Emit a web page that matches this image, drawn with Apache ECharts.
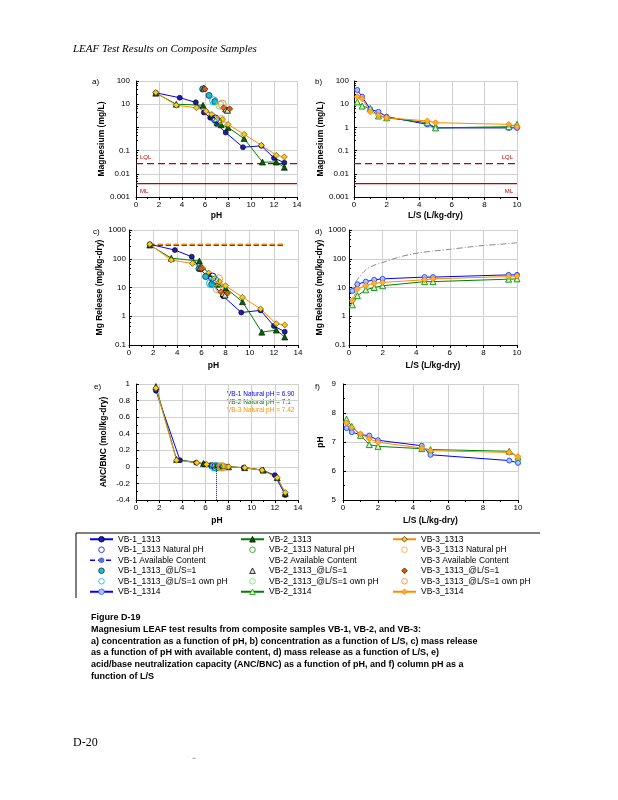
<!DOCTYPE html>
<html><head><meta charset="utf-8">
<script src="https://cdn.jsdelivr.net/npm/echarts@6/dist/echarts.min.js"></script>
<style>html,body{margin:0;padding:0;background:#fff;}#c{width:618px;height:800px;}</style>
</head><body><div id="c"></div>
<script>
// ---------- DATA ----------
// 1313 (pH-dependence) : pH, concentration (mg/L), release (mg/kg-dry), ANC (mol/kg-dry)
const pH1313_VB1 = [1.72, 3.8, 5.2, 5.9, 6.45, 7.0, 7.8, 9.3, 10.9, 12.0, 12.9];
const conc1313_VB1 = [31, 19, 12, 4.4, 2.6, 1.4, 0.6, 0.14, 0.16, 0.048, 0.03];
const rel1313_VB1 = [320, 200, 118, 43, 25, 12.5, 5, 1.35, 1.6, 0.46, 0.29];
const anc1313_VB1 = [0.92, 0.08, 0.05, 0.03, 0.02, 0.01, 0.0, -0.01, -0.04, -0.1, -0.34];

const pH1313_VB2 = [1.72, 3.5, 5.83, 6.6, 7.4, 8.0, 9.4, 11.0, 12.2, 12.9];
const conc1313_VB2 = [30, 10, 9, 3.4, 1.3, 1.0, 0.33, 0.032, 0.032, 0.019];
const rel1313_VB2 = [300, 105, 83, 30, 13, 9.6, 3.2, 0.28, 0.33, 0.19];
const anc1313_VB2 = [0.97, 0.09, 0.04, 0.02, 0.01, 0.0, -0.01, -0.04, -0.13, -0.32];

const pH1313_VB3 = [1.72, 3.5, 5.26, 6.1, 6.6, 7.5, 8.0, 9.4, 10.9, 12.2, 12.9];
const conc1313_VB3 = [32, 9, 7, 5, 3.6, 2.2, 1.35, 0.5, 0.17, 0.063, 0.053];
const rel1313_VB3 = [320, 90, 69, 47, 32, 16, 11.5, 4.6, 1.8, 0.55, 0.5];
const anc1313_VB3 = [0.95, 0.08, 0.05, 0.03, 0.02, 0.01, 0.0, -0.01, -0.04, -0.13, -0.31];

// natural pH, own pH and @L/S=1 points
const naturalPH = [6.9, 7.1, 7.42];
const naturalConc = [2.3, 1.8, 2.2];
const naturalRel = [23, 18, 20];
const ownPH = [6.75, 7.3, 7.5];
const ownConc = [14, 9, 10];
const ls1PH_VB1 = [5.8, 6.35, 6.85];
const ls1Conc_VB1 = [45, 24, 13];
const ls1PH_VB2 = [5.9, 7.8, 7.95];
const ls1Conc_VB2 = [50, 6.2, 5.5];
const ls1PH_VB3 = [6.0, 7.6, 8.15];
const ls1Conc_VB3 = [45, 7, 6.3];

// available content (mg/kg-dry) over the pH range
const availContent = [295, 300, 320];
const availPHRange = [1.72, 12.9];

// limits (mg/L) and the x ranges they span
const limitLQL = 0.0275;
const limitML = 0.0038;
const limitRangePH = [0, 14];
const limitRangeLS = [0, 10];

// 1314 (column) : L/S, concentration, cumulative release, pH
const ls1314 = [0.2, 0.5, 1.0, 1.5, 2.0, 4.5, 5.0, 9.5, 10.0];
const conc1314_VB1 = [41, 21, 6, 4.7, 2.9, 1.35, 0.95, 0.95, 0.95];
const conc1314_VB2 = [12.6, 8.3, 6.6, 3.1, 2.6, 1.6, 0.95, 1.07, 1.35];
const conc1314_VB3 = [21, 17, 4.7, 3.4, 2.6, 1.9, 1.6, 1.35, 1.07];
const cum1314_VB1 = [7.6, 13, 16, 18.5, 20, 23, 23, 27.5, 27.5];
const cum1314_VB2 = [2.5, 5.2, 8.3, 10, 11.5, 16, 16, 19.5, 20];
const cum1314_VB3 = [3.5, 8.9, 11.7, 14, 15, 18.6, 20, 24, 25];
const pH1314_VB1 = [7.48, 7.34, 7.25, 7.22, 7.06, 6.87, 6.56, 6.36, 6.28];
const pH1314_VB2 = [7.79, 7.54, 7.23, 6.91, 6.85, 6.77, 6.74, 6.68, 6.48];
const pH1314_VB3 = [7.66, 7.5, 7.28, 7.11, 6.99, 6.79, 6.7, 6.64, 6.5];

// grey dash-dot curve in panel d)
const greyLS = [0.1, 0.5, 1, 1.5, 2, 3, 4, 5, 6, 7, 8, 9, 10];
const greyVal = [7, 19, 41, 60, 74, 115, 155, 185, 213, 250, 290, 320, 360];

// legend names
const legendCol1 = ['VB-1_1313', 'VB-1_1313 Natural pH', 'VB-1 Available Content', 'VB-1_1313_@L/S=1', 'VB-1_1313_@L/S=1 own pH', 'VB-1_1314'];
const legendCol2 = ['VB-2_1313', 'VB-2_1313 Natural pH', 'VB-2 Available Content', 'VB-2_1313_@L/S=1', 'VB-2_1313_@L/S=1 own pH', 'VB-2_1314'];
const legendCol3 = ['VB-3_1313', 'VB-3_1313 Natural pH', 'VB-3 Available Content', 'VB-3_1313_@L/S=1', 'VB-3_1313_@L/S=1 own pH', 'VB-3_1314'];

const captionLines = [
  'Figure D-19',
  'Magnesium LEAF test results from composite samples VB-1, VB-2, and VB-3:',
  'a) concentration as a function of pH, b) concentration as a function of L/S, c) mass release',
  'as a function of pH with available content, d) mass release as a function of L/S, e)',
  'acid/base neutralization capacity (ANC/BNC) as a function of pH, and f) column pH as a',
  'function of L/S'
];
const naturalNotes = ['VB-1 Natural pH = 6.90', 'VB-2 Natural pH = 7.1', 'VB-3 Natural pH = 7.42'];

// ---------- STYLE ----------
const F = 'Liberation Sans, Arial, sans-serif';
const LC = ['#0000ff', '#008000', '#ff8c00'];
const m1313 = [
  {symbol: 'circle', size: 5, style: {color: '#1c1cb0', borderColor: '#000', borderWidth: 0.6}},
  {symbol: 'triangle', size: 6, style: {color: '#006400', borderColor: '#000', borderWidth: 0.6}},
  {symbol: 'diamond', size: 6, style: {color: '#ffcc00', borderColor: '#333', borderWidth: 0.6}}
];
const m1314 = [
  {symbol: 'circle', size: 5, style: {color: '#a8c8ff', borderColor: '#3050ff', borderWidth: 1}},
  {symbol: 'triangle', size: 6, style: {color: '#d8f5d0', borderColor: '#1a9a1a', borderWidth: 1}},
  {symbol: 'diamond', size: 6, style: {color: '#ffb030', borderColor: '#ff7a00', borderWidth: 0.8}}
];
const mNat = ['#0000ff', '#00a000', '#ff9a40'];
const mOwn = ['#00b0f0', '#66dd66', '#ff8020'];
const mLs1 = [
  {symbol: 'circle', size: 6, style: {color: '#22bbcc', borderColor: '#003050', borderWidth: 0.8}},
  {symbol: 'triangle', size: 6, style: {color: '#c8e8c0', borderColor: '#000', borderWidth: 0.8}},
  {symbol: 'diamond', size: 6, style: {color: '#e05a00', borderColor: '#401000', borderWidth: 0.6}}
];

function zip(xs, ys) { return xs.map((x, i) => [x, ys[i]]); }
function fmt(v) { return String(Number(Number(v).toPrecision(3))); }

const grids = [
  {left: 136, top: 81, width: 161, height: 116},
  {left: 354, top: 81, width: 163, height: 116},
  {left: 129, top: 230, width: 169, height: 115},
  {left: 349, top: 230, width: 168, height: 115},
  {left: 136, top: 384, width: 162, height: 116},
  {left: 343, top: 384, width: 175, height: 116}
];

const nameStyle = {fontFamily: F, fontSize: 8.5, fontWeight: 'bold', color: '#000'};
const labStyle = {fontFamily: F, fontSize: 8, color: '#000'};
const split = {show: true, lineStyle: {color: '#d0d0d0', width: 1}};

function xAx(i, max, name, gap) {
  return {gridIndex: i, type: 'value', min: 0, max: max, interval: 2, name: name,
    nameLocation: 'middle', nameGap: gap, nameTextStyle: nameStyle,
    axisLine: {show: true, onZero: false, lineStyle: {color: '#000', width: 1}},
    axisTick: {show: true, length: 3, lineStyle: {color: '#000'}},
    minorTick: {show: true, splitNumber: 2, length: 2, lineStyle: {color: '#000'}},
    axisLabel: Object.assign({margin: 4}, labStyle),
    splitLine: split};
}
function yLog(i, min, max, name, gap, margin, hideOne) {
  return {gridIndex: i, type: 'log', logBase: 10, min: min, max: max, name: name,
    nameLocation: 'middle', nameGap: gap, nameTextStyle: nameStyle,
    axisLine: {show: true, lineStyle: {color: '#000', width: 1}},
    axisTick: {show: true, inside: true, length: 3, lineStyle: {color: '#000'}},
    minorTick: {show: true, splitNumber: 5, length: 2, lineStyle: {color: '#000'}},
    axisLabel: Object.assign({margin: margin, formatter: v => (hideOne && Math.abs(v - 1) < 1e-9) ? '' : fmt(v)}, labStyle),
    splitLine: split};
}
function yLin(i, min, max, interval, name, gap, margin) {
  return {gridIndex: i, type: 'value', min: min, max: max, interval: interval, name: name,
    nameLocation: 'middle', nameGap: gap, nameTextStyle: nameStyle,
    axisLine: {show: true, onZero: false, lineStyle: {color: '#000', width: 1}},
    axisTick: {show: true, inside: true, length: 3, lineStyle: {color: '#000'}},
    minorTick: {show: true, splitNumber: 2, length: 2, lineStyle: {color: '#000'}},
    axisLabel: Object.assign({margin: margin, formatter: v => fmt(v)}, labStyle),
    splitLine: split};
}

const xAxis = [
  xAx(0, 14, 'pH', 14), xAx(1, 10, 'L/S (L/kg-dry)', 14), xAx(2, 14, 'pH', 16),
  xAx(3, 10, 'L/S (L/kg-dry)', 16), xAx(4, 14, 'pH', 16), xAx(5, 10, 'L/S (L/kg-dry)', 16)
];
const yAxis = [
  yLog(0, 0.001, 100, 'Magnesium (mg/L)', 29, 6, true),
  yLog(1, 0.001, 100, 'Magnesium (mg/L)', 27, 5, false),
  yLog(2, 0.1, 1000, 'Mg Release (mg/kg-dry)', 23, 3, false),
  yLog(3, 0.1, 1000, 'Mg Release (mg/kg-dry)', 24, 3, false),
  yLin(4, -0.4, 1, 0.2, 'ANC/BNC (mol/kg-dry)', 28, 6),
  yLin(5, 5, 9, 1, 'pH', 18, 7)
];

const series = [];
function addLine(name, gi, xs, ys, mk, color, extra) {
  series.push(Object.assign({
    name: name, type: 'line', xAxisIndex: gi, yAxisIndex: gi, data: zip(xs, ys),
    symbol: mk.symbol, symbolSize: mk.size, itemStyle: mk.style,
    lineStyle: {color: color, width: 1}, animation: false, z: 3
  }, extra || {}));
}
// markers only (line series with invisible line so the legend icon keeps symbol proportions)
function addPoints(name, gi, xs, ys, symbol, size, style, extra) {
  series.push(Object.assign({
    name: name, type: 'line', xAxisIndex: gi, yAxisIndex: gi, data: zip(xs, ys),
    symbol: symbol, symbolSize: size, itemStyle: style, showAllSymbol: true,
    lineStyle: {width: 0, opacity: 0}, animation: false, z: 4
  }, extra || {}));
}
function openStyle(c) { return {color: 'rgba(255,255,255,0)', borderColor: c, borderWidth: 1}; }

function addLimit(gi, range, value, text, dashed, atStart, above) {
  const data = zip(range, [value, value]).map((p, i) => {
    const item = {value: p};
    if ((atStart && i === 0) || (!atStart && i === 1)) {
      item.label = {show: true, formatter: text, position: above ? 'top' : 'bottom',
        align: atStart ? 'left' : 'right', offset: [atStart ? 4 : -4, above ? 2 : -1],
        color: '#c00000', fontSize: 6, fontFamily: F};
    }
    return item;
  });
  series.push({name: text + ' limit', type: 'line', xAxisIndex: gi, yAxisIndex: gi, data: data,
    symbol: 'circle', symbolSize: 1, itemStyle: {color: 'rgba(0,0,0,0)'},
    lineStyle: {color: '#c00000', width: 1.2, type: dashed ? [7, 4] : 'solid'},
    animation: false, z: 1, silent: true});
}

const pH1313 = [pH1313_VB1, pH1313_VB2, pH1313_VB3];
const conc1313 = [conc1313_VB1, conc1313_VB2, conc1313_VB3];
const rel1313 = [rel1313_VB1, rel1313_VB2, rel1313_VB3];
const anc1313 = [anc1313_VB1, anc1313_VB2, anc1313_VB3];
const ls1PH = [ls1PH_VB1, ls1PH_VB2, ls1PH_VB3];
const ls1Conc = [ls1Conc_VB1, ls1Conc_VB2, ls1Conc_VB3];
const conc1314 = [conc1314_VB1, conc1314_VB2, conc1314_VB3];
const cum1314 = [cum1314_VB1, cum1314_VB2, cum1314_VB3];
const pH1314 = [pH1314_VB1, pH1314_VB2, pH1314_VB3];
const cols = [legendCol1, legendCol2, legendCol3];

// panel a
for (let k = 0; k < 3; k++) addLine(cols[k][0], 0, pH1313[k], conc1313[k], m1313[k], LC[k]);
for (let k = 0; k < 3; k++) {
  const n = cols[k];
  addPoints(n[1], 0, [naturalPH[k]], [naturalConc[k]], 'circle', 8, openStyle(mNat[k]));
  addPoints(n[3], 0, ls1PH[k], ls1Conc[k], mLs1[k].symbol, mLs1[k].size, mLs1[k].style);
  addPoints(n[4], 0, [ownPH[k]], [ownConc[k]], 'circle', 8, openStyle(mOwn[k]));
}
addLimit(0, limitRangePH, limitLQL, 'LQL', true, true, true);
addLimit(0, limitRangePH, limitML, 'ML', false, true, false);
// panel b
for (let k = 0; k < 3; k++) addLine(cols[k][5], 1, ls1314, conc1314[k], m1314[k], LC[k]);
addLimit(1, limitRangeLS, limitLQL, 'LQL', true, false, true);
addLimit(1, limitRangeLS, limitML, 'ML', false, false, false);
// panel c
for (let k = 0; k < 3; k++) {
  series.push({name: cols[k][2], type: 'line', xAxisIndex: 2, yAxisIndex: 2,
    data: zip(availPHRange, [availContent[k], availContent[k]]), symbol: 'none',
    lineStyle: {color: LC[k], width: 1.5, type: [5, 3]}, animation: false, z: 2});
}
for (let k = 0; k < 3; k++) addLine(cols[k][0], 2, pH1313[k], rel1313[k], m1313[k], LC[k]);
for (let k = 0; k < 3; k++) {
  const n = cols[k];
  addPoints(n[1], 2, [naturalPH[k]], [naturalRel[k]], 'circle', 8, openStyle(mNat[k]));
  addPoints(n[3], 2, ls1PH[k], ls1Conc[k], mLs1[k].symbol, mLs1[k].size, mLs1[k].style);
  addPoints(n[4], 2, [ownPH[k]], [ownConc[k]], 'circle', 8, openStyle(mOwn[k]));
}
// panel d
series.push({name: 'Cumulative reference', type: 'line', xAxisIndex: 3, yAxisIndex: 3,
  data: zip(greyLS, greyVal), symbol: 'none', smooth: 0.3,
  lineStyle: {color: '#888', width: 1, type: [6, 2, 1, 2]}, animation: false, z: 2});
for (let k = 0; k < 3; k++) addLine(cols[k][5], 3, ls1314, cum1314[k], m1314[k], LC[k]);
// panel e
for (let k = 0; k < 3; k++) addLine(cols[k][0], 4, pH1313[k], anc1313[k], m1313[k], LC[k]);
for (let k = 0; k < 3; k++) {
  const n = cols[k];
  const extra = k === 0 ? {markLine: {silent: true, symbol: 'none', animation: false, label: {show: false},
    lineStyle: {color: '#0000ff', type: 'dotted', width: 1},
    data: [[{coord: [naturalPH[0], 0]}, {coord: [naturalPH[0], -0.4]}]]}} : null;
  addPoints(n[1], 4, [naturalPH[k]], [0], 'circle', 8, openStyle(mNat[k]), extra);
  addPoints(n[4], 4, [ownPH[k]], [0], 'circle', 8, openStyle(mOwn[k]));
}
// panel f
for (let k = 0; k < 3; k++) addLine(cols[k][5], 5, ls1314, pH1314[k], m1314[k], LC[k]);

function legendData(names) {
  return names.map((nm, i) => i === 2 && nm.indexOf('VB-1') !== 0
    ? {name: nm, itemStyle: {opacity: 0}, lineStyle: {opacity: 0}}
    : (i === 2 ? {name: nm, lineStyle: {type: [5, 3], width: 1.5}} : {name: nm}));
}
const legendLefts = [89, 240, 392];
const legend = [0, 1, 2].map(k => ({
  orient: 'vertical', left: legendLefts[k], top: 534, itemWidth: 23, itemHeight: 7, itemGap: 0,
  itemStyle: {borderWidth: 0.8},
  selectedMode: false, padding: 0, data: legendData(cols[k]),
  textStyle: {fontFamily: F, fontSize: 8.5, color: '#000', lineHeight: 10.5}
}));

const graphic = [
  {type: 'text', left: 73, top: 44, style: {text: 'LEAF Test Results on Composite Samples', fontFamily: 'Liberation Serif, Times New Roman, serif', fontStyle: 'italic', fontSize: 11, fill: '#000'}},
  {type: 'text', left: 91, top: 612, style: {text: captionLines.join('\n'), fontFamily: F, fontWeight: 'bold', fontSize: 9, lineHeight: 11.7, fill: '#000'}},
  {type: 'text', left: 73, top: 737, style: {text: 'D-20', fontFamily: 'Liberation Serif, Times New Roman, serif', fontSize: 12, fill: '#000'}},
  {type: 'text', left: 188, top: 756, style: {text: '\u02C8  \u25AA\u25AA', fontFamily: F, fontSize: 5, fill: '#999'}},
  {type: 'line', shape: {x1: 76, y1: 533, x2: 540, y2: 533}, style: {stroke: '#000', lineWidth: 1}},
  {type: 'line', shape: {x1: 76, y1: 533, x2: 76, y2: 598}, style: {stroke: '#000', lineWidth: 1}}
];
const panelLabels = [['a)', 92, 78], ['b)', 315, 78], ['c)', 93, 228], ['d)', 315, 228], ['e)', 94, 383], ['f)', 315, 383]];
panelLabels.forEach(p => graphic.push({type: 'text', left: p[1], top: p[2], style: {text: p[0], fontFamily: F, fontSize: 8, fill: '#000'}}));
naturalNotes.forEach((t, k) => graphic.push({type: 'text', left: 227, top: 391 + k * 8, style: {text: t, fontFamily: F, fontSize: 6.5, fill: LC[k]}}));

const chart = echarts.init(document.getElementById('c'), null, {renderer: 'canvas'});
chart.setOption({
  backgroundColor: '#fff', animation: false,
  grid: grids, xAxis: xAxis, yAxis: yAxis, series: series, legend: legend, graphic: graphic
});
</script></body></html>
